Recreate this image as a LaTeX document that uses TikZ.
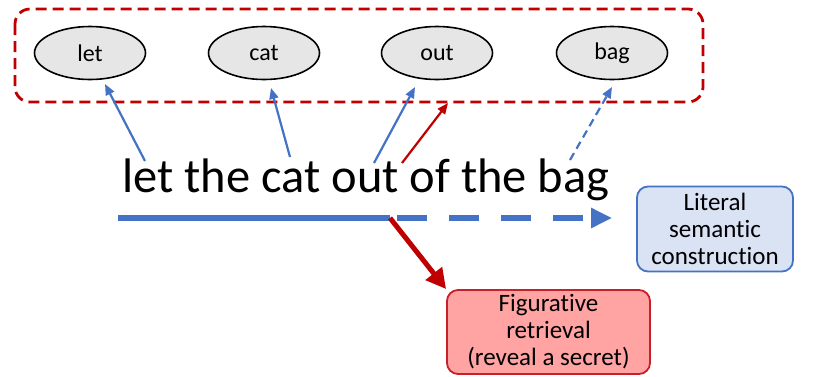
\documentclass[tikz,border=0pt]{standalone}
\usepackage{fontspec}
\setmainfont{Carlito}[Ligatures=NoCommon]
\usetikzlibrary{arrows.meta,shapes.geometric}
\definecolor{myblue}{HTML}{4472C4}
\definecolor{mydred}{HTML}{C00000}
\definecolor{bluefill}{HTML}{DAE3F3}
\definecolor{redfill}{HTML}{FFA3A3}
\definecolor{redborder}{HTML}{C8202A}
\definecolor{ellfill}{HTML}{E6E6E6}
\tikzset{
  word/.style={ellipse, draw=black, line width=1.6pt, fill=ellfill, minimum width=111pt, minimum height=53pt, inner sep=0pt, font=\fontsize{24}{28}\selectfont},
  thinblue/.style={draw=myblue, line width=2.2pt, -{Triangle[length=11pt,width=9pt]}},
  thinred/.style={draw=mydred, line width=2.2pt, -{Triangle[length=11pt,width=9pt]}},
  outcome/.style={rounded corners=11pt, line width=1.8pt, align=center, inner sep=0pt, font=\fontsize{25}{27}\selectfont},
}
\begin{document}
\begin{tikzpicture}[x=1pt,y=-1pt]
\useasboundingbox (0,0) rectangle (813,376);
% group box
\draw[mydred, line width=2.8pt, dash pattern=on 11pt off 6pt, rounded corners=15pt] (15,9) rectangle (703,102);
% word ellipses
\node[word] (e1) at (90,53) {let};
\node[word] (e2) at (264,53) {cat};
\node[word] (e3) at (437,53) {out};
\node[word] (e4) at (612,53) {bag};
% sentence
\node[anchor=base, inner sep=0pt, font=\fontsize{48.5}{56}\selectfont] (sent) at (366,192) {let the cat out of the bag};
% outcome boxes
\node[outcome, draw=myblue, fill=bluefill, minimum width=156pt, minimum height=85pt] (lit) at (715,229) {Literal\\semantic\\construction};
\node[outcome, draw=redborder, fill=redfill, minimum width=203pt, minimum height=84pt] (fig) at (548.5,332) {Figurative\\retrieval\\(reveal a secret)};
% free ends
\coordinate (s1) at (145,161);
\coordinate (t1) at (105,84);
\coordinate (s2) at (290,157);
\coordinate (t2) at (271,88);
\coordinate (s3) at (374,163);
\coordinate (t3) at (415,87);
\coordinate (s4) at (402,163);
\coordinate (t4) at (448,103);
\coordinate (s5) at (570,160);
\coordinate (t5) at (612,87);
\coordinate (a0) at (118,218);
\coordinate (aj) at (390,218);
\coordinate (ad) at (397,218);
% arrows
\draw[thinblue] (s1) -- (t1);
\draw[thinblue] (s2) -- (t2);
\draw[thinblue] (s3) -- (t3);
\draw[thinred] (s4) -- (t4);
\draw[thinblue, dash pattern=on 8pt off 5pt] (s5) -- (t5);
\draw[myblue, line width=5.5pt] (a0) -- (aj);
\draw[myblue, line width=5.5pt, dash pattern=on 30pt off 22pt, -{Triangle[length=21pt,width=19pt]}, shorten >=24pt] (ad) -- (ad -| lit.west);
\draw[mydred, line width=5pt, -{Triangle[length=20pt,width=20pt]}] (aj) -- (fig.north west);
\end{tikzpicture}
\end{document}
